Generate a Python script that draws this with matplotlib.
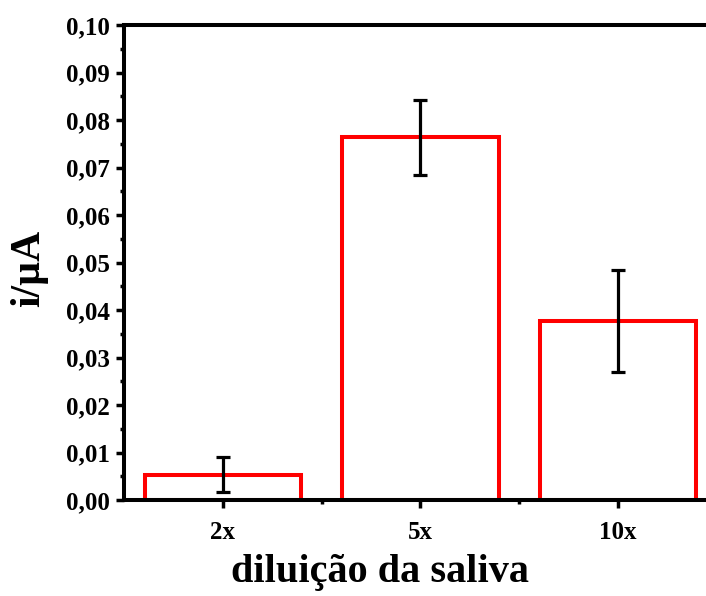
import matplotlib
matplotlib.use("Agg")
import matplotlib.pyplot as plt
from matplotlib.ticker import MultipleLocator, FixedLocator, FuncFormatter

# diluted saliva samples: mean current and std dev
dilutions = ["2x", "5x", "10x"]
current = [0.0053, 0.0764, 0.0377]
current_err = [0.0037, 0.0079, 0.0107]

plt.rcParams["font.family"] = ["Liberation Serif", "DejaVu Serif"]
plt.rcParams["font.weight"] = "bold"

fig = plt.figure(figsize=(7.06, 5.96), dpi=100)
# right edge of the frame runs past the canvas
ax = fig.add_axes([0.1756, 0.161, 0.840, 0.797])

pos = list(range(1, len(dilutions) + 1))
ax.bar(pos, current, width=0.79, color="white", edgecolor="#ff0000",
       linewidth=2.9, zorder=2)
ax.errorbar(pos, current, yerr=current_err, fmt="none", ecolor="black",
            elinewidth=2.3, capsize=5, capthick=2.3, zorder=3)

ax.set_xlim(0.5, 3.5)
ax.set_ylim(0, 0.10)
ax.set_xticks(pos)
ax.set_xticklabels(dilutions)
ax.xaxis.set_minor_locator(FixedLocator([1.5, 2.5]))
ax.yaxis.set_major_locator(MultipleLocator(0.01))
ax.yaxis.set_minor_locator(MultipleLocator(0.005))
ax.yaxis.set_major_formatter(FuncFormatter(lambda v, p: f"{v:.2f}".replace(".", ",")))

for s in ax.spines.values():
    s.set_linewidth(2.9)
ax.tick_params(which="major", direction="out", length=6, width=2.5,
               labelsize=18, pad=4)
ax.tick_params(axis="x", which="major", pad=9)
ax.tick_params(which="minor", direction="out", length=3, width=2.5)
ax.tick_params(top=False, right=False, which="both")

ax.set_xlabel("diluição da saliva", fontsize=29, fontweight="bold")
ax.set_ylabel("i/µA", fontsize=30, fontweight="bold")
ax.xaxis.set_label_coords(0.432, -0.113)
ax.yaxis.set_label_coords(-0.128, 0.488)

fig.savefig("out.png", dpi=100)
